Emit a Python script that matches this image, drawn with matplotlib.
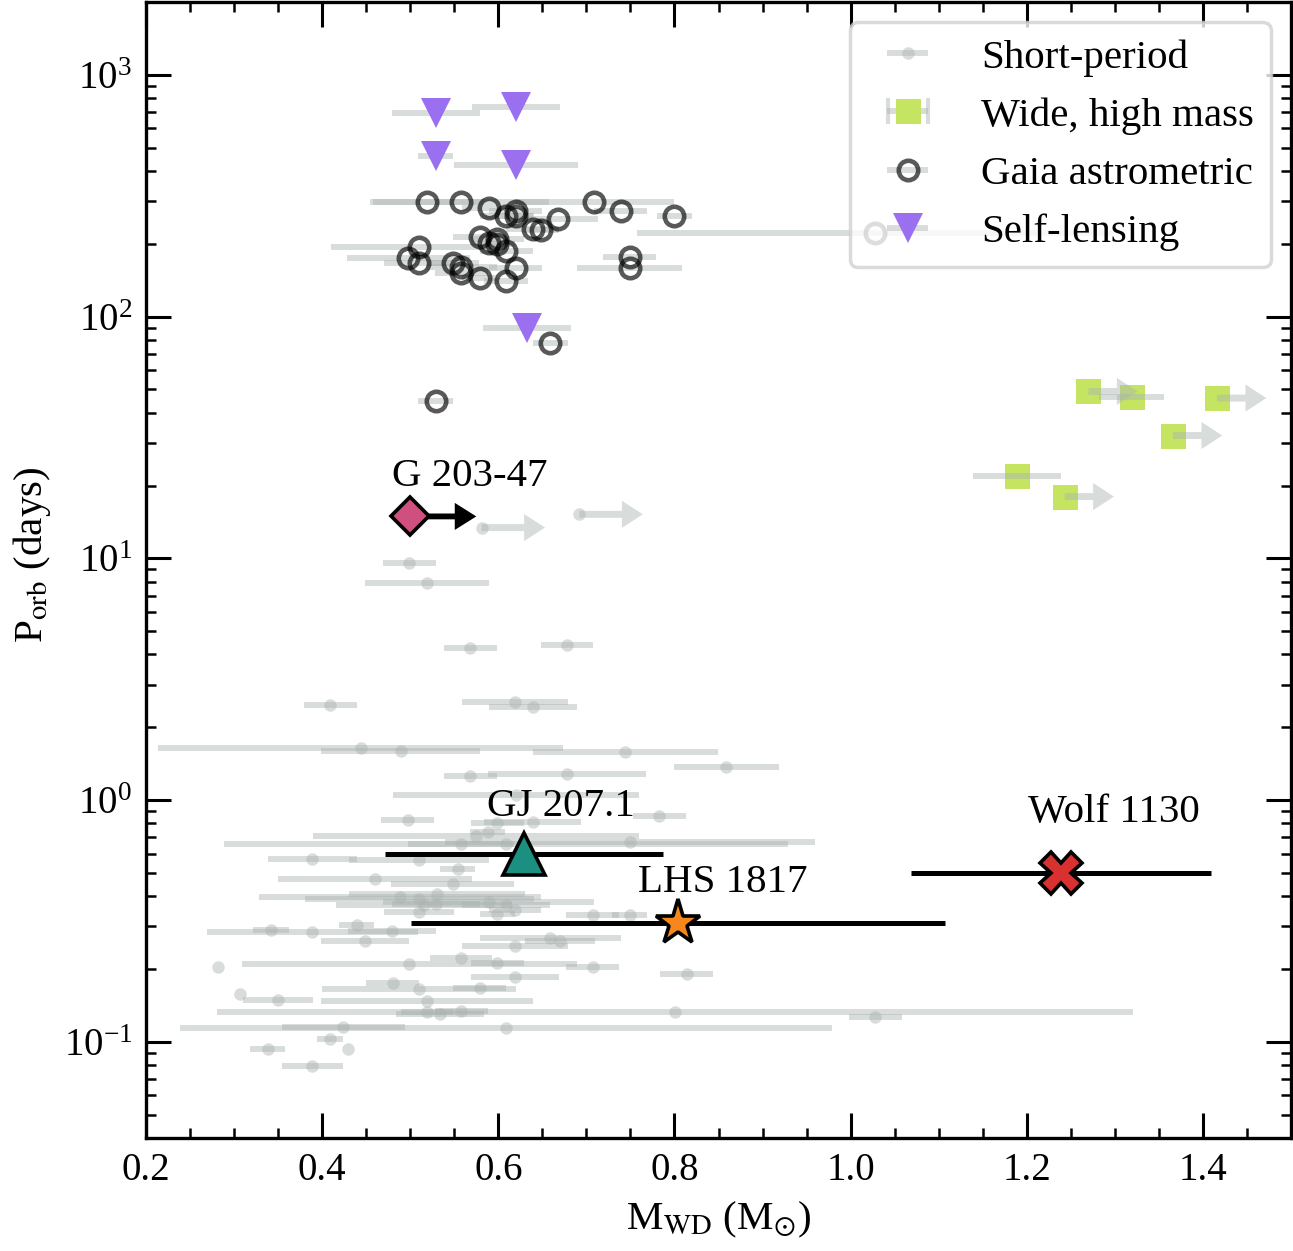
import numpy as np
import matplotlib
matplotlib.use('Agg')
import matplotlib.pyplot as plt
from matplotlib.ticker import MultipleLocator, LogLocator, NullFormatter
from matplotlib.lines import Line2D
from matplotlib.path import Path
from matplotlib.legend_handler import HandlerTuple

plt.rcParams['font.family'] = ['Liberation Serif', 'DejaVu Serif']
plt.rcParams['mathtext.fontset'] = 'stix'

# ---------------- data ----------------
# Short-period systems (WD mass, orbital period [d], mass error)
sp_mass = [0.499, 0.519, 0.568, 0.678, 0.409, 0.619, 0.639, 0.444, 0.489, 0.744,
           0.568, 0.678, 0.859, 0.639, 0.620, 0.599, 0.588, 0.575, 0.558, 0.609,
           0.749, 0.783, 0.389, 0.510, 0.554, 0.460, 0.548, 0.530, 0.510, 0.589,
           0.529, 0.609, 0.510, 0.619, 0.599, 0.707, 0.749, 0.439, 0.342, 0.389,
           0.479, 0.449, 0.659, 0.670, 0.619, 0.282, 0.499, 0.558, 0.599, 0.707,
           0.619, 0.480, 0.510, 0.579, 0.307, 0.350, 0.519, 0.519, 0.534, 0.558,
           0.801, 1.028, 0.424, 0.609, 0.409, 0.338, 0.429, 0.389, 0.814, 0.497,
           0.516, 0.488]
sp_period = [9.6, 7.9, 4.25, 4.37, 2.47, 2.54, 2.42, 1.64, 1.60, 1.58,
             1.26, 1.28, 1.37, 0.81, 1.05, 0.80, 0.74, 0.71, 0.66, 0.66,
             0.67, 0.86, 0.57, 0.565, 0.52, 0.47, 0.45, 0.41, 0.39, 0.38,
             0.37, 0.368, 0.344, 0.35, 0.338, 0.335, 0.335, 0.304, 0.29, 0.285,
             0.288, 0.26, 0.269, 0.26, 0.249, 0.204, 0.21, 0.222, 0.212, 0.204,
             0.186, 0.175, 0.166, 0.167, 0.158, 0.149, 0.148, 0.133, 0.130, 0.134,
             0.133, 0.127, 0.115, 0.114, 0.103, 0.0935, 0.0935, 0.0796, 0.191, 0.825,
             0.367, 0.398]
sp_err = [0.03, 0.07, 0.03, 0.03, 0.03, 0.06, 0.05, 0.23, 0.09, 0.105,
          0.03, 0.09, 0.06, 0.055, 0.14, 0.03, 0.02, 0.185, 0.06, 0.32,
          0.21, 0.03, 0.05, 0.08, 0.02, 0.11, 0.07, 0.10, 0.13, 0.12,
          0.05, 0.05, 0.04, 0.03, 0.02, 0.03, 0.02, 0.02, 0.02, 0.12,
          0.05, 0.05, 0.08, 0.04, 0.06, 0.0, 0.19, 0.035, 0.03, 0.03,
          0.05, 0.03, 0.11, 0.03, 0.0, 0.04, 0.12, 0.03, 0.05, 0.03,
          0.52, 0.03, 0.07, 0.37, 0.015, 0.02, 0.0, 0.035, 0.03, 0.03,
          0.10, 0.16]
# Short-period systems with lower mass limits
sp_lim_mass = [0.581, 0.692]
sp_lim_period = [13.4, 15.2]

# Wide, high-mass systems
wide_mass = [1.270, 1.319, 1.416, 1.366, 1.189, 1.243]
wide_period = [49.0, 46.3, 46.0, 32.2, 21.8, 18.0]
wide_err = [0.0, 0.037, 0.0, 0.0, 0.05, 0.0]
wide_lowerlim = [True, False, True, True, False, True]

# Gaia astrometric systems
gaia_mass = [0.519, 0.558, 0.589, 0.609, 0.620, 0.620, 0.639, 0.649, 0.668, 0.709,
             0.739, 0.749, 0.749, 0.510, 0.498, 0.510, 0.579, 0.589, 0.599, 0.599,
             0.609, 0.548, 0.558, 0.558, 0.579, 0.620, 0.609, 0.659, 0.529, 0.800,
             1.028]
gaia_period = [299, 299, 282, 261, 272, 261, 231, 229, 252, 299,
               274, 177, 159, 193, 175, 167, 214, 202, 210, 199,
               187, 167, 161, 151, 145, 159, 140, 78, 44.6, 261,
               222]
gaia_err = [0.065, 0.10, 0.03, 0.03, 0.03, 0.02, 0.03, 0.02, 0.045, 0.09,
            0.03, 0.03, 0.06, 0.10, 0.07, 0.04, 0.03, 0.02, 0.03, 0.02,
            0.03, 0.03, 0.04, 0.03, 0.02, 0.03, 0.025, 0.02, 0.02, 0.02,
            0.27]

# Self-lensing systems
sl_mass = [0.529, 0.620, 0.529, 0.620, 0.633]
sl_period = [697, 738, 463, 425, 90]
sl_err = [0.05, 0.05, 0.02, 0.07, 0.05]

# Highlighted systems
hl_names = ['G 203-47', 'GJ 207.1', 'LHS 1817', 'Wolf 1130']
hl_mass = [0.500, 0.629, 0.804, 1.239]
hl_period = [14.9, 0.60, 0.31, 0.499]
hl_err = [0.0, 0.158, 0.303, 0.17]
hl_lowerlim = [True, False, False, False]

legend_labels = ['Short-period', 'Wide, high mass', 'Gaia astrometric', 'Self-lensing']

# ---------------- style ----------------
GRAY = '#aab3b1'
GRAY_A = (0.667, 0.702, 0.694, 0.45)
GREEN = '#c5e462'
PURPLE = '#9b70f0'
hl_markers = ['D', '^', '*', 'X']
hl_colors = ['#cf4f7f', '#1b9080', '#f7871c', '#d93030']
hl_ms = [19, 30, 34, 30]
hl_text_offsets = [(43, 22), (27, 27), (32, 22), (38, 37)]

fig = plt.figure(figsize=(12.93, 12.51), dpi=100)
ax = fig.add_axes([146 / 1293, 1 - 1138 / 1251, (1291 - 146) / 1293, (1138 - 2) / 1251])
ax.set_yscale('log')

FS = 29.5

def gray_arrow(x, y, length, color, alpha, z):
    ax.annotate('', xy=(x + length, y), xytext=(x, y),
                arrowprops=dict(arrowstyle='simple,head_length=1.5,head_width=1.95,tail_width=0.5',
                                color=color, alpha=alpha, lw=0, shrinkA=0, shrinkB=0,
                                mutation_scale=10),
                zorder=z)

# short-period
ax.errorbar(sp_mass, sp_period, xerr=sp_err, fmt='o', ms=9, color=GRAY, alpha=0.45,
            elinewidth=4.3, capsize=0, mew=0, zorder=1)
ax.errorbar(sp_lim_mass, sp_lim_period, fmt='o', ms=9, color=GRAY, alpha=0.45, mew=0, zorder=1)
for m, p in zip(sp_lim_mass, sp_lim_period):
    gray_arrow(m, p, 0.072, GRAY, 0.45, 1)

# gaia astrometric
ax.errorbar(gaia_mass, gaia_period, xerr=gaia_err, fmt='o', ms=14, mfc='none',
            mec=(0, 0, 0, 0.65), mew=3.3, ecolor=GRAY_A, elinewidth=4.3, capsize=0, zorder=2)

# self-lensing
ax.errorbar(sl_mass, sl_period, xerr=sl_err, fmt='v', ms=21, mfc=PURPLE, mec=PURPLE, mew=0,
            ecolor=GRAY_A, elinewidth=4.3, capsize=0, zorder=3)

# wide high mass
ax.errorbar(wide_mass, wide_period, fmt='s', ms=18, mfc=GREEN, mec=GREEN, mew=0,
            ls='none', zorder=3)
ax.errorbar(wide_mass, wide_period, xerr=wide_err, fmt='none',
            ecolor=GRAY_A, elinewidth=4.3, capsize=0, zorder=4)
for m, p, lim in zip(wide_mass, wide_period, wide_lowerlim):
    if lim:
        gray_arrow(m, p, 0.056, GRAY, 0.45, 4)

# highlighted objects
for name, m, p, e, lim, mk, c, ms, off in zip(hl_names, hl_mass, hl_period, hl_err, hl_lowerlim,
                                              hl_markers, hl_colors, hl_ms, hl_text_offsets):
    if lim:
        ax.annotate('', xy=(m + 0.075, p), xytext=(m, p),
                    arrowprops=dict(arrowstyle='simple,head_length=1.55,head_width=1.95,tail_width=0.42',
                                    color='k', lw=0, shrinkA=0, shrinkB=0, mutation_scale=10),
                    zorder=9)
        ax.plot([m], [p], marker=mk, ms=ms, mfc=c, mec='k', mew=2.6, ls='none', zorder=10)
    else:
        ax.errorbar([m], [p], xerr=[e], fmt=mk, ms=ms, mfc=c, mec='k', mew=2.6,
                    ecolor='k', elinewidth=3.6, capsize=0, zorder=10)
    ax.annotate(name, xy=(m, p), xytext=off, textcoords='offset points',
                ha='center', va='baseline', fontsize=FS, zorder=11)

# legend proxies (drawn outside the visible range)
h1 = ax.errorbar([-5], [1], xerr=[0.1], fmt='o', ms=9, color=GRAY, alpha=0.45,
                 elinewidth=4.3, mew=0)
h2 = ax.errorbar([-5], [1], xerr=[0.1], fmt='s', ms=18, mfc=GREEN, mec=GREEN, mew=0,
                 ecolor=GRAY_A, elinewidth=4.3)
cap_path = Path([(-1, -0.62), (-1, 0.62), (1, -0.62), (1, 0.62)],
                [Path.MOVETO, Path.LINETO, Path.MOVETO, Path.LINETO])
h2caps = Line2D([], [], ls='none', marker=cap_path, ms=FS, mfc='none',
                mec=GRAY_A, mew=3)
h3 = ax.errorbar([-5], [1], xerr=[0.1], fmt='o', ms=14, mfc='none',
                 mec=(0, 0, 0, 0.65), mew=3.3, ecolor=GRAY_A, elinewidth=4.3)
h4 = ax.errorbar([-5], [1], xerr=[0.1], fmt='v', ms=21, mfc=PURPLE, mec=PURPLE, mew=0,
                 ecolor=GRAY_A, elinewidth=4.3)
leg = ax.legend(handles=[h1, (h2, h2caps), h3, h4], labels=legend_labels,
                handler_map={tuple: HandlerTuple(ndivide=1)},
                loc='upper right', fontsize=FS, framealpha=0.8,
                fancybox=True, borderaxespad=0.5)
leg.get_frame().set_linewidth(2.5)
leg.get_frame().set_edgecolor('0.82')
leg.set_zorder(20)

# axes
ax.set_xlim(0.2, 1.5)
ax.set_ylim(0.04, 2000)
ax.xaxis.set_major_locator(MultipleLocator(0.2))
ax.xaxis.set_minor_locator(MultipleLocator(0.05))
ax.yaxis.set_major_locator(LogLocator(base=10, numticks=20))
ax.yaxis.set_minor_locator(LogLocator(base=10, subs=np.arange(2, 10), numticks=20))
ax.yaxis.set_minor_formatter(NullFormatter())
ax.tick_params(which='both', direction='in', top=True, right=True, labelsize=28, pad=10)
ax.tick_params(which='major', length=18, width=2.2)
ax.tick_params(which='minor', length=7, width=1.8)
for s in ax.spines.values():
    s.set_linewidth(2.4)

ax.set_xlabel(r'M$_{\rm WD}$ (M$_{\odot}$)', fontsize=FS, labelpad=8)
ax.set_ylabel(r'P$_{\rm orb}$ (days)', fontsize=FS)
ax.yaxis.set_label_coords(-0.081, 0.513)

fig.savefig('out.png', dpi=100)
